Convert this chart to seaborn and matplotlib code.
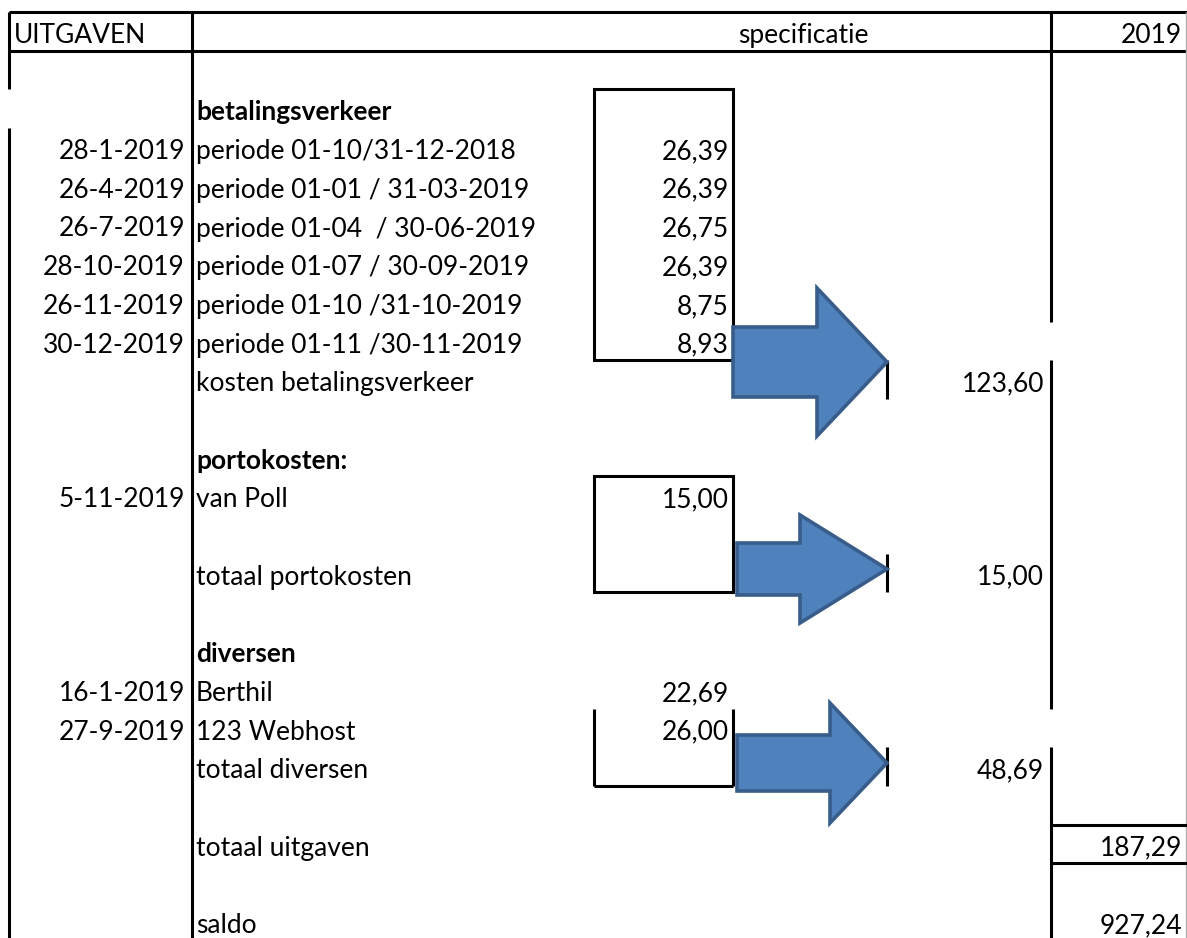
import matplotlib
matplotlib.use("Agg")
import matplotlib.pyplot as plt
from matplotlib.patches import Polygon, Rectangle
import seaborn as sns

# ---- data ------------------------------------------------------------------
bank_dates = ["28-1-2019", "26-4-2019", "26-7-2019", "28-10-2019",
              "26-11-2019", "30-12-2019"]
bank_desc = ["periode 01-10/31-12-2018", "periode 01-01 / 31-03-2019",
             "periode 01-04  / 30-06-2019", "periode 01-07 / 30-09-2019",
             "periode 01-10 /31-10-2019", "periode 01-11 /30-11-2019"]
bank_amounts = [26.39, 26.39, 26.75, 26.39, 8.75, 8.93]

porto_dates = ["5-11-2019"]
porto_desc = ["van Poll"]
porto_amounts = [15.00]

div_dates = ["16-1-2019", "27-9-2019"]
div_desc = ["Berthil", "123 Webhost"]
div_amounts = [22.69, 26.00]

section_titles = ["betalingsverkeer", "portokosten:", "diversen"]
subtotal_labels = ["kosten betalingsverkeer", "totaal portokosten", "totaal diversen"]
subtotals = [123.60, 15.00, 48.69]

total_label, total_value = "totaal uitgaven", 187.29
saldo_label, saldo_value = "saldo", 927.24
year = "2019"

# ---- layout (pixel grid of the sheet) --------------------------------------
W, H = 1187, 938
TOP, ROW_H = 12, 38.7
X_A, X_B, X_C, X_D, X_E, X_F, X_END = 9, 192, 594, 733, 887, 1051, 1186
# heading row, first item row, subtotal row for each section
section_rows = [(2, 3, 9), (11, 12, 14), (16, 17, 19)]
TOTAL_ROW, SALDO_ROW = 21, 23

sns.set_theme(style="white")
plt.rcParams["font.family"] = ["Lato", "DejaVu Sans"]
FS = 19
LW = 2.2
BLUE, BLUE_EDGE = "#4F81BD", "#385D8A"


def rt(i):
    return TOP + i * ROW_H


def fmt(v):
    return f"{v:,.2f}".replace(",", " ").replace(".", ",")


fig = plt.figure(figsize=(W / 100, H / 100), dpi=100)
ax = fig.add_axes([0, 0, 1, 1])
ax.set_xlim(0, W)
ax.set_ylim(H, 0)
ax.axis("off")


def put(row, x, s, ha="left", bold=False):
    ax.text(x, rt(row) + 31, s, ha=ha, va="baseline", fontsize=FS,
            fontweight="bold" if bold else "normal", color="black")


def vline(x, r0, r1, **kw):
    ax.plot([x, x], [rt(r0), min(rt(r1), H)], color=kw.get("c", "black"),
            lw=kw.get("lw", LW), solid_capstyle="butt")


def hline(y, x0, x1):
    ax.plot([x0, x1], [y, y], color="black", lw=LW, solid_capstyle="butt")


# header
hline(rt(0), X_A, W)
hline(rt(1), X_A, W)
put(0, 14, "UITGAVEN")
put(0, 803, "specificatie", ha="center")
put(0, 1182, year, ha="right")

# column borders
vline(X_A, 0, 2)
vline(X_A, 3, 25)
vline(X_B, 0, 25)
vline(X_F, 0, 8)
vline(X_F, 9, 18)
vline(X_F, 19, 25)
vline(X_END, 0, 25, c="#b0b0b0", lw=1)

# sections
sections = [(bank_dates, bank_desc, bank_amounts),
            (porto_dates, porto_desc, porto_amounts),
            (div_dates, div_desc, div_amounts)]
for (hr, r0, sr), (dates, desc, amts), title, sl, sv in zip(
        section_rows, sections, section_titles, subtotal_labels, subtotals):
    put(hr, X_B + 4, title, bold=True)
    for k, (d, s, a) in enumerate(zip(dates, desc, amts)):
        put(r0 + k, 185, d, ha="right")
        put(r0 + k, X_B + 4, s)
        put(r0 + k, X_D - 4, fmt(a), ha="right")
    put(sr, X_B + 4, sl)
    put(sr, X_F - 7, fmt(sv), ha="right")
    vline(X_E, sr, sr + 1)

# boxes around the specification amounts
ax.add_patch(Rectangle((X_C, rt(2)), X_D - X_C, rt(9) - rt(2),
                       fill=False, ec="black", lw=LW))
ax.add_patch(Rectangle((X_C, rt(12)), X_D - X_C, rt(15) - rt(12),
                       fill=False, ec="black", lw=LW))
vline(X_C, 18, 20)
vline(X_D, 18, 20)
hline(rt(20), X_C, X_D)

# totals
put(TOTAL_ROW, X_B + 4, total_label)
put(TOTAL_ROW, 1182, fmt(total_value), ha="right")
hline(rt(TOTAL_ROW), X_F, W)
hline(rt(TOTAL_ROW + 1), X_F, W)
put(SALDO_ROW, X_B + 4, saldo_label)
put(SALDO_ROW, 1182, fmt(saldo_value), ha="right")

# block arrows: (x_left, x_head, x_tip, y_tip, body half height, head half height)
arrows = [(733, 817, 887, 362, 35, 74),
          (737, 800, 887, 569, 26, 54),
          (737, 830, 887, 763, 28, 60)]
for x0, xh, xt, yc, bh, hh in arrows:
    pts = [(x0, yc - bh), (xh, yc - bh), (xh, yc - hh), (xt, yc),
           (xh, yc + hh), (xh, yc + bh), (x0, yc + bh)]
    ax.add_patch(Polygon(pts, closed=True, fc=BLUE, ec=BLUE_EDGE, lw=2.6,
                         joinstyle="miter", zorder=3))

fig.savefig("out.png", dpi=100, facecolor="white")
